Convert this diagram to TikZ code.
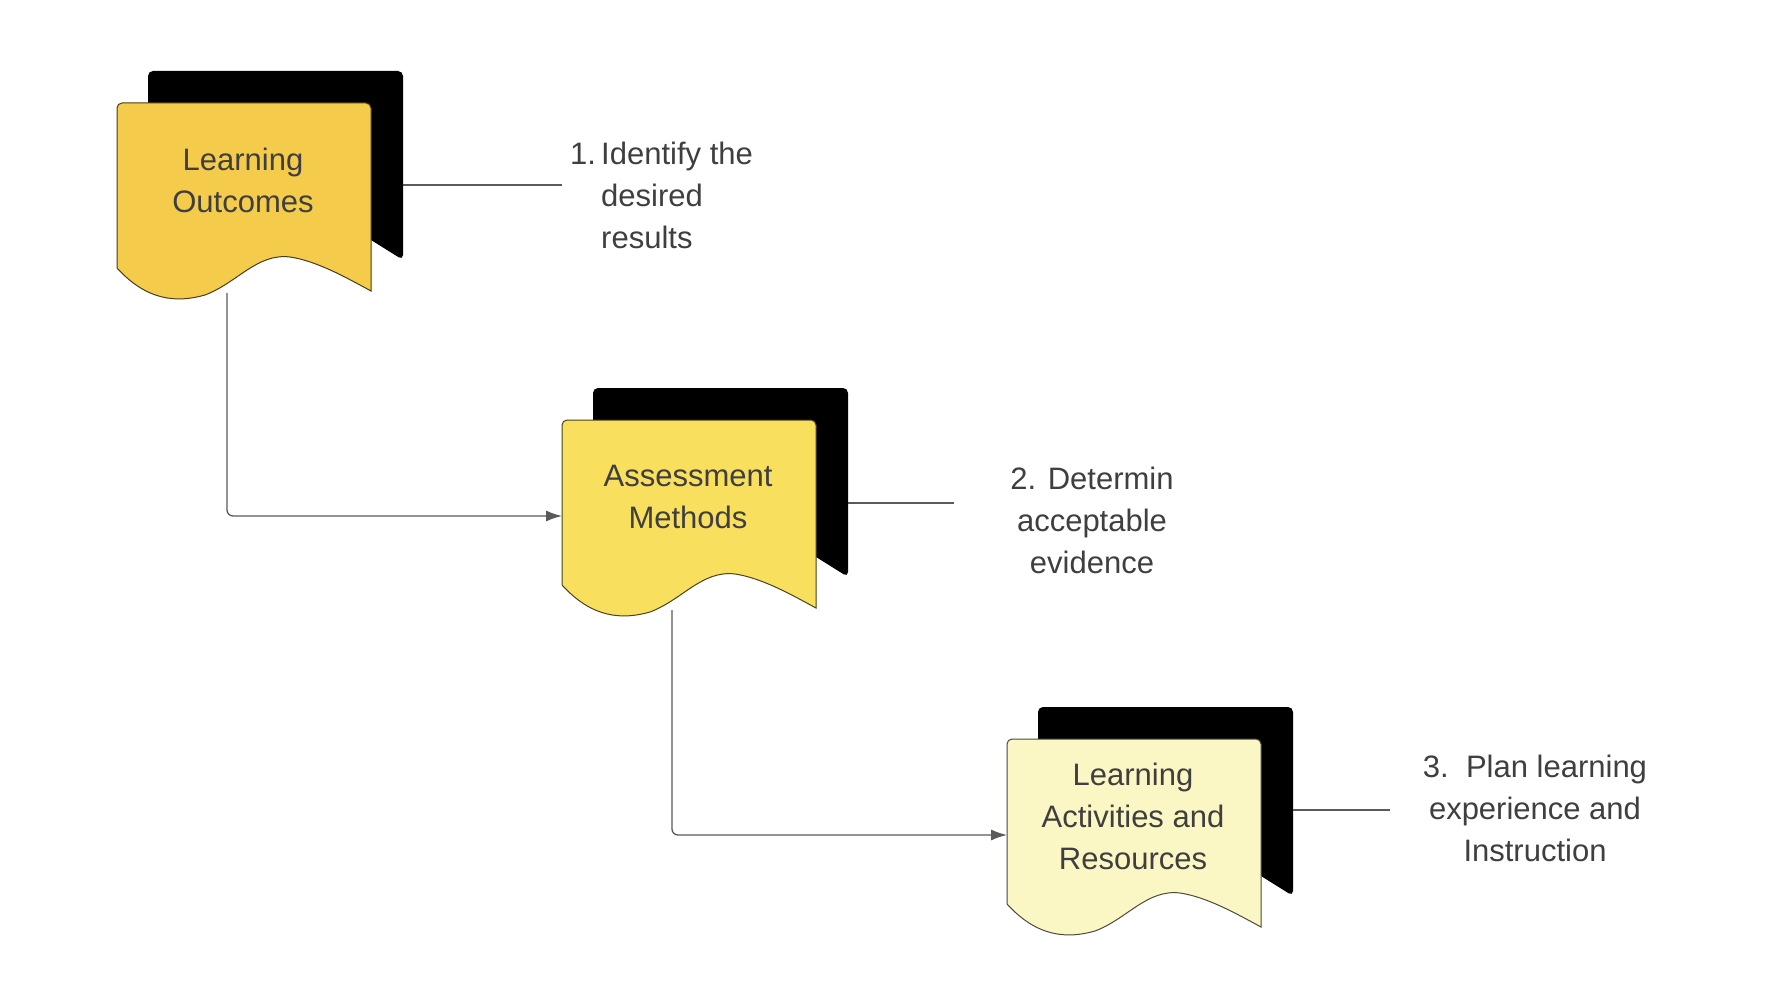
\documentclass[tikz,border=0pt]{standalone}
\usepackage{fontspec}
\setmainfont{Liberation Sans}
\usetikzlibrary{arrows.meta}
\definecolor{tx}{HTML}{3F3F3F}
\definecolor{ln}{HTML}{5A5A5A}
\definecolor{cA}{HTML}{F4CB4B}
\definecolor{cB}{HTML}{F8DF5E}
\definecolor{cC}{HTML}{FBF7C4}
\tikzset{x=1pt,y=1pt,
  lbl/.style={text=tx,font=\fontsize{31}{42}\selectfont,inner sep=0},
  conn/.style={draw=ln,line width=1.3pt,rounded corners=6,-{Latex[length=16,width=11]}},
  lead/.style={draw=ln,line width=1.2pt}}
\newcommand{\docbox}[5]{%
  \begin{scope}[shift={(#2,#3)}]
    \fill[black,rounded corners=5] (31,-10) -- (31,32) -- (286,32) -- (286,-157) [sharp corners] -- (254,-137) -- (254,-10) -- cycle;
    \draw[fill=#4,draw=black!70!#4,line width=1pt,rounded corners=5] (0,-100) -- (0,0) -- (254,0) [sharp corners] -- (254,-188)
      .. controls (230,-175) and (200,-158) .. (173,-154)
      .. controls (140,-150) and (120,-180) .. (88,-192)
      .. controls (60,-200) and (30,-198) .. (0,-165) -- cycle;
    \node[lbl,align=center] (#1) at (126,-77) {#5};
    \coordinate (#1bot) at (110,-190);
    \coordinate (#1in) at (0,-96);
    \coordinate (#1out) at (286,-82);
  \end{scope}}
\begin{document}
\begin{tikzpicture}
\useasboundingbox (0,0) rectangle (1780,-984);
\fill[white] (0,0) rectangle (1780,-984);
\docbox{b1}{117}{-103}{cA}{Learning\\Outcomes}
\docbox{b2}{562}{-420}{cB}{Assessment\\Methods}
\docbox{b3}{1007}{-739}{cC}{Learning\\Activities and\\Resources}
\draw[conn] (b1bot) |- (b2in);
\draw[conn] (b2bot) |- (b3in);
\node[lbl,align=left,anchor=north west] (t1) at (570,-142) {1.\,Identify the\\\phantom{1.\,}desired\\\phantom{1.\,}results};
\node[lbl,align=center] (t2) at (1092,-520) {2. Determin\\acceptable\\evidence};
\node[lbl,align=center] (t3) at (1535,-808) {3.\ \ Plan learning\\experience and\\Instruction};
\coordinate (e1) at (562,-185);
\coordinate (e2) at (954,-503);
\coordinate (e3) at (1390,-810);
\draw[lead] (b1out|-e1) -- (e1);
\draw[lead] (b2out|-e2) -- (e2);
\draw[lead] (b3out|-e3) -- (e3);
\end{tikzpicture}
\end{document}
